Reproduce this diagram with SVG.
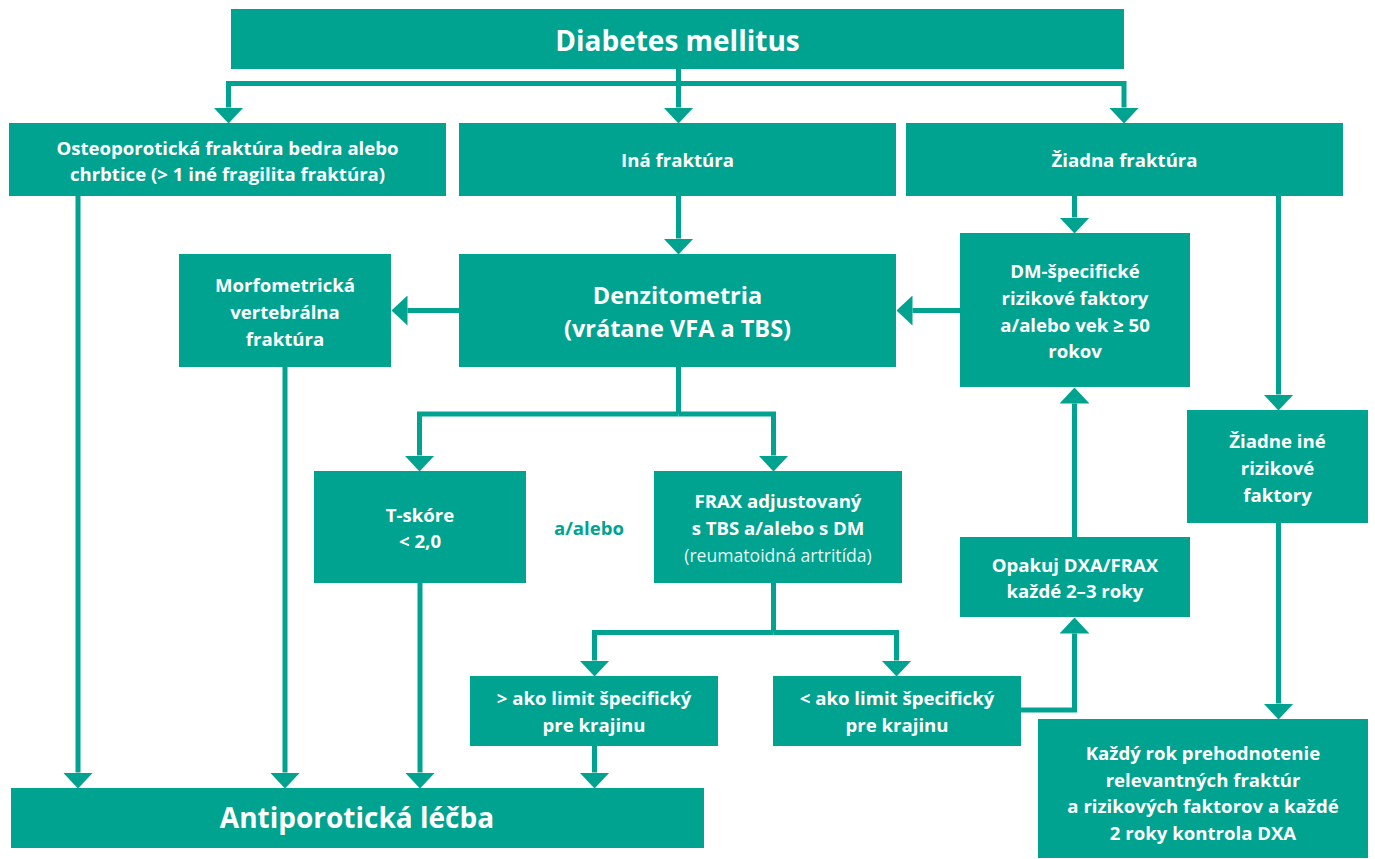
<svg xmlns="http://www.w3.org/2000/svg" width="1375" height="859" viewBox="0 0 1375 859">
<defs>
<style>
.box{fill:#00A390}
.t{font-family:"Open Sans","Noto Sans","Liberation Sans",sans-serif;font-weight:700;fill:#fff;text-anchor:middle;font-size:18.6px}
.big{font-size:28px}
.mid{font-size:23.5px}
.reg{font-weight:400;font-size:17.6px}
.lab{fill:#00A390}
.c{fill:none;stroke:#00A390;stroke-width:5;stroke-linejoin:miter;marker-end:url(#ah)}
.cn{fill:none;stroke:#00A390;stroke-width:5;stroke-linejoin:miter}
</style>
<marker id="ah" markerUnits="userSpaceOnUse" markerWidth="16" markerHeight="30" refX="0" refY="15" orient="auto" viewBox="0 0 16 30">
<path d="M0,0 L16,15 L0,30 Z" fill="#00A390"/>
</marker>
</defs>
<rect width="1375" height="859" fill="#fff"/>
<g id="connectors">
<path class="c" d="M678.5,69 V107.5"/>
<path class="c" d="M678.5,83.5 H228.5 V107.5"/>
<path class="c" d="M678.5,83.5 H1124 V107.5"/>
<path class="c" d="M678.5,196 V238.5"/>
<path class="c" d="M1074.5,196 V217.5"/>
<path class="c" d="M1278.5,196 V394.5"/>
<path class="c" d="M1278.5,523 V703.5"/>
<path class="c" d="M78,196 V772.5"/>
<path class="c" d="M285,367 V772.5"/>
<path class="c" d="M420,583 V772.5"/>
<path class="c" d="M594.5,746 V772.5"/>
<path class="c" d="M459,310.5 H407.5"/>
<path class="c" d="M960,310.5 H912.5"/>
<path class="cn" d="M678.5,367 V414"/>
<path class="c" d="M678.5,414 H419.5 V455.5"/>
<path class="c" d="M678.5,414 H773.5 V455.5"/>
<path class="cn" d="M773.5,583 V632.5"/>
<path class="c" d="M773.5,632.5 H594.5 V660.5"/>
<path class="c" d="M773.5,632.5 H896.5 V660.5"/>
<path class="c" d="M1021,710 H1074.5 V633.5"/>
<path class="c" d="M1074.5,537 V403.5"/>
</g>
<g id="n-dm">
<rect class="box" x="231" y="9" width="893" height="60"/>
<text class="t big" x="677.5" y="51">Diabetes mellitus</text>
</g>
<g id="n-osteo">
<rect class="box" x="9" y="123" width="437" height="73"/>
<text class="t" x="227.5" y="155">Osteoporotická fraktúra bedra alebo</text>
<text class="t" x="227.5" y="181">chrbtice (&gt; 1 iné fragilita fraktúra)</text>
</g>
<g id="n-ina">
<rect class="box" x="459" y="123" width="437" height="73"/>
<text class="t" x="677.5" y="167">Iná fraktúra</text>
</g>
<g id="n-ziadna">
<rect class="box" x="906" y="123" width="437" height="73"/>
<text class="t" x="1124.5" y="167">Žiadna fraktúra</text>
</g>
<g id="n-morfo">
<rect class="box" x="179" y="254" width="212" height="113"/>
<text class="t" x="285" y="292">Morfometrická</text>
<text class="t" x="285" y="319">vertebrálna</text>
<text class="t" x="285" y="346">fraktúra</text>
</g>
<g id="n-denz">
<rect class="box" x="459" y="254" width="437" height="113"/>
<text class="t mid" x="677.5" y="304">Denzitometria</text>
<text class="t mid" x="677.5" y="337">(vrátane VFA a TBS)</text>
</g>
<g id="n-dmrisk">
<rect class="box" x="960" y="233" width="230" height="154"/>
<text class="t" x="1075" y="278">DM-špecifické</text>
<text class="t" x="1075" y="305">rizikové faktory</text>
<text class="t" x="1075" y="332">a/alebo vek ≥ 50</text>
<text class="t" x="1075" y="358">rokov</text>
</g>
<g id="n-tskore">
<rect class="box" x="314" y="471" width="212" height="112"/>
<text class="t" x="420" y="522">T-skóre</text>
<text class="t" x="420" y="548">&lt; 2,0</text>
</g>
<g id="n-aalebo">
<text class="t lab" x="589" y="535">a/alebo</text>
</g>
<g id="n-frax">
<rect class="box" x="654" y="471" width="248" height="112"/>
<text class="t" x="778" y="508">FRAX adjustovaný</text>
<text class="t" x="778" y="535">s TBS a/alebo s DM</text>
<text class="t reg" x="778" y="562" fill-opacity="0.92">(reumatoidná artritída)</text>
</g>
<g id="n-opakuj">
<rect class="box" x="960" y="537" width="230" height="80"/>
<text class="t" x="1075" y="572">Opakuj DXA/FRAX</text>
<text class="t" x="1075" y="598">každé 2–3 roky</text>
</g>
<g id="n-ziadneine">
<rect class="box" x="1187" y="410" width="181" height="113"/>
<text class="t" x="1277.5" y="448">Žiadne iné</text>
<text class="t" x="1277.5" y="475">rizikové</text>
<text class="t" x="1277.5" y="502">faktory</text>
</g>
<g id="n-gt">
<rect class="box" x="470" y="676" width="248" height="70"/>
<text class="t" x="594" y="705">&gt; ako limit špecifický</text>
<text class="t" x="594" y="732">pre krajinu</text>
</g>
<g id="n-lt">
<rect class="box" x="773" y="676" width="248" height="70"/>
<text class="t" x="897" y="705">&lt; ako limit špecifický</text>
<text class="t" x="897" y="732">pre krajinu</text>
</g>
<g id="n-anti">
<rect class="box" x="11" y="788" width="693" height="60"/>
<text class="t big" x="357" y="828">Antiporotická léčba</text>
</g>
<g id="n-kazdy">
<rect class="box" x="1038" y="719" width="330" height="139"/>
<text class="t" x="1203" y="760">Každý rok prehodnotenie</text>
<text class="t" x="1203" y="787">relevantných fraktúr</text>
<text class="t" x="1203" y="813">a rizikových faktorov a každé</text>
<text class="t" x="1203" y="840">2 roky kontrola DXA</text>
</g>
</svg>
